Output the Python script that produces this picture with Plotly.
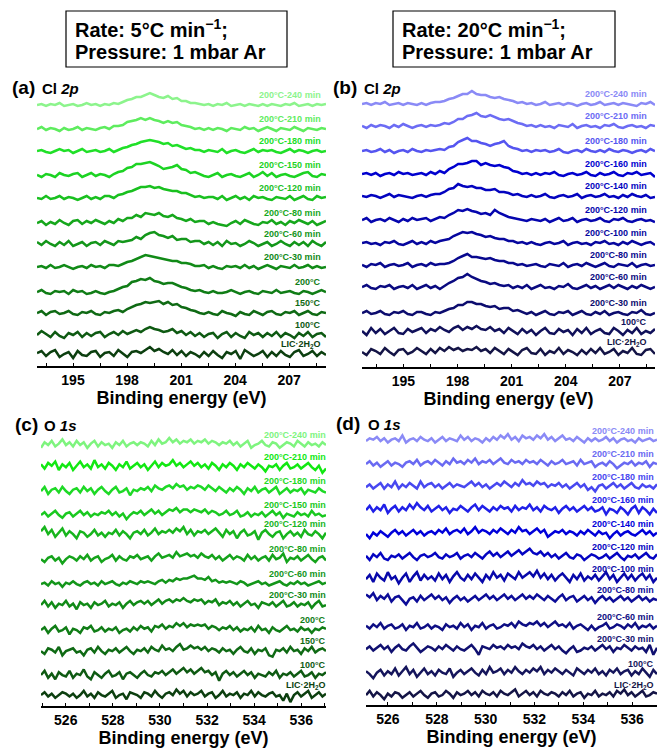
import numpy as np
import plotly.graph_objects as go

# ---------------------------------------------------------------
# Energy windows (eV) of the four panels
# ---------------------------------------------------------------
CL_A_WINDOW = (193.0, 209.05)
CL_B_WINDOW = (192.7, 208.95)
O_C_WINDOW = (524.95, 537.05)
O_D_WINDOW = (525.1, 537.02)

# Sample labels, bottom to top
labels_5c = ["LIC·2H<sub>2</sub>O", "100°C", "150°C", "200°C", "200°C-30 min",
             "200°C-60 min", "200°C-80 min", "200°C-120 min", "200°C-150 min",
             "200°C-180 min", "200°C-210 min", "200°C-240 min"]
labels_20c = ["LIC·2H<sub>2</sub>O", "100°C", "200°C-30 min", "200°C-60 min",
              "200°C-80 min", "200°C-100 min", "200°C-120 min", "200°C-140 min",
              "200°C-160 min", "200°C-180 min", "200°C-210 min", "200°C-240 min"]

# Vertical stacking offsets (intensity units of each panel), bottom to top
offsets_a = [12, 31, 53, 74, 99, 122, 143, 168, 191, 215, 237, 261]
offsets_b = [15, 35, 54, 80, 102, 124, 147, 171, 193, 216, 241, 263]
offsets_c = [7.8, 22.1, 39.2, 54.2, 72.1, 87.1, 104.9, 122.8, 136.4, 153.5, 170.6, 186.4]
offsets_d = [7.1, 22.1, 39.9, 55.6, 74.9, 89.9, 105.6, 122.1, 139.2, 155.6, 172.1, 188.5]

# ---------------------------------------------------------------
# Cl 2p spectra, 5 °C/min (relative intensity, background removed)
# ---------------------------------------------------------------
cl_a_lic = [1, 3, -2, 2, 4, -3, 0, 2, -4, 3, -1, -2, 2,
            3, -3, 1, 2, -2, 4, 0, -3, 2, 3, 1, 4, 7,
            3, 5, 2, 0, 4, -1, 3, -2, 2, 0, -3, 2, -2,
            3, -1, -4, 2, 0, 3, -5, 4, 1, -2, 0, 3, -3,
            2, -2, 3, -1, -3, 2, 4, -2, 0, 3, -2, 2, -1]
cl_a_100 = [0, 4, 1, -2, 3, -1, -3, 2, 0, 3, -2, 2, -1,
            2, 3, -2, 1, 3, 0, 4, 1, 3, 5, 3, 6, 8,
            6, 5, 3, 4, 6, 2, 4, 0, 3, -1, 2, -2, 1,
            2, -3, 1, 3, -2, 2, -1, -3, 3, 0, 2, -2, 2,
            -1, 3, -2, 2, 0, -3, 2, -1, 3, -2, 1, 2, -2]
cl_a_150 = [0, 2, -2, 1, 2, -1, 0, 2, -1, -2, 1, 0, 2,
            -1, -2, 1, 0, 2, 3, 1, 4, 6, 8, 9, 11, 10,
            11, 12, 9, 11, 8, 9, 6, 5, 3, 2, 0, -1, 1,
            -1, -2, 2, 0, -1, -3, 1, -1, -2, 2, 0, -2, 1,
            2, -1, -2, 1, 0, 2, -2, 0, 2, -1, -2, 1, 0]
cl_a_200 = [0, 2, -1, -2, 1, 0, 1, -2, 2, 0, 1, -2, -1,
            1, -1, -2, 0, 1, 3, 5, 6, 10, 11, 13, 12, 14,
            11, 10, 8, 9, 9, 7, 5, 4, 2, 1, 2, 0, -1,
            1, -1, -1, 0, 2, 0, -2, 0, 1, -1, -2, 1, 0,
            -1, 2, -1, 0, 1, -1, -2, 1, 0, -2, 0, 2, 0]
cl_a_30 = [0, 1, -1, 2, -1, 0, 2, 0, -2, 0, 1, -1, 2,
           0, 1, -1, 2, 2, 1, 3, 5, 6, 8, 10, 12, 11,
           10, 9, 8, 7, 6, 6, 4, 4, 3, 1, 1, 2, -1,
           1, -1, -2, 1, 0, 1, -1, 2, -1, 1, -2, 0, 2,
           0, -2, 1, 0, -1, 2, -1, 0, 2, -1, 1, -1, 0]
cl_a_60 = [2, -1, 3, 0, -2, 2, -1, 3, -2, 0, 2, -2, 1,
           2, -1, 3, 1, -1, 3, 2, 3, 4, 7, 5, 9, 11,
           12, 9, 8, 6, 8, 4, 5, 5, 2, 3, 3, 0, 2,
           -1, 2, -2, 3, 0, 1, -2, 0, 3, 1, -2, 0, 2,
           -2, 0, 3, 0, -2, 2, -1, 2, -2, 3, 0, -2, 2]
cl_a_80 = [0, 2, -2, 1, -1, 3, 0, -2, 2, 3, -1, 2, 0,
           3, 1, -1, 2, 0, 4, 2, 5, 5, 8, 6, 10, 9,
           8, 10, 7, 6, 8, 5, 4, 2, 4, 1, 2, 2, -1,
           1, -1, -2, -3, 0, 2, -1, 3, 1, -1, -2, 1, 0,
           3, -1, 1, -2, 2, 0, 3, 1, -1, 2, -2, 0, 2]
cl_a_120 = [0, -1, 2, -1, 0, 2, -1, 1, 0, -2, 0, 2, -1,
            1, -1, 2, 2, 0, 3, 4, 6, 7, 9, 11, 11, 12,
            10, 11, 9, 8, 7, 7, 5, 5, 3, 1, 2, 0, 1,
            1, -1, 2, -2, 0, 2, -1, 1, -2, 2, 0, 1, -1,
            -2, 1, 0, -1, 2, -2, 0, 2, -1, -2, 2, 0, 1]
cl_a_150m = [0, -2, 1, 0, -2, 2, 0, -1, 1, 2, -2, 0, 2,
             -1, 1, 0, -2, 1, 3, 4, 7, 8, 11, 11, 12, 13,
             11, 9, 6, 7, 8, 10, 6, 5, 2, 3, 1, -1, -2,
             0, 2, -2, 0, 1, -1, -2, 0, 2, -2, 0, 3, -1,
             2, -2, 0, 1, -1, -2, 0, 2, 3, -1, -2, 1, 0]
cl_a_180 = [0, 1, -1, -2, 0, 2, 0, 1, -2, 0, 2, -1, 0,
            1, -1, 0, 2, -1, 1, 3, 4, 6, 7, 9, 10, 11,
            10, 9, 7, 8, 5, 6, 4, 2, 3, 1, 1, -1, 1,
            0, -1, 2, -2, 0, 1, -1, -2, 0, 2, -1, 1, 0,
            1, -1, -2, 0, 2, -1, 1, 0, -2, 0, 1, -1, 0]
cl_a_210 = [0, 2, -1, 1, 0, -2, 1, -1, 0, 2, -1, 1, 0,
            -1, 1, 2, 0, 3, 3, 4, 7, 8, 9, 11, 9, 11,
            9, 8, 6, 8, 6, 7, 4, 3, 2, 0, 1, -1, 1,
            -1, 1, 0, -2, 1, 0, -1, 2, 0, 1, -2, 0, 2,
            0, -2, 1, 0, -1, 2, 0, -2, 1, 0, -1, 1, 0]
cl_a_240 = [0, 1, -1, 1, 0, 2, -1, 0, 1, -1, 0, 2, 0,
            1, -1, 1, 0, 2, 1, 3, 5, 6, 8, 8, 10, 12,
            10, 8, 7, 9, 6, 7, 4, 4, 2, 2, 1, 0, 1,
            -1, 1, 0, 2, -1, 0, 1, -1, 1, 0, -1, 1, -1,
            1, 0, -1, 1, 0, 2, -1, 0, 1, -1, 1, 0, 1]

# ---------------------------------------------------------------
# Cl 2p spectra, 20 °C/min
# ---------------------------------------------------------------
cl_b_lic = [0, -3, 3, 1, -2, 4, 0, -3, 2, 3, -2, 0, 4,
            1, -2, 3, -1, 4, 1, 5, 2, 4, 1, 3, 2, 5,
            1, 3, -1, 4, 1, -2, 3, 0, -3, 2, 4, -1, -2,
            3, -3, 1, -1, 4, -2, 2, 0, -3, 2, -2, 3, -1,
            4, -2, 0, 3, -3, 1, -1, 4, -2, -3, 2, 3, -2]
cl_b_100 = [1, -3, 4, -1, 3, -2, 1, 4, -1, -2, 3, 0, 2,
            4, -1, 3, 1, 5, 2, 0, 4, 6, 2, 5, 3, 6,
            3, 2, 5, 1, 3, -1, 4, 1, -2, 3, -1, 2, -3,
            1, 4, -1, -2, 3, 0, 2, -3, 3, -1, 4, -2, 1,
            3, -1, -2, 4, 1, -3, 2, -1, 4, -2, 1, -1, 3]
cl_b_30 = [0, 2, -1, 0, 2, -1, -2, 1, 0, 2, -1, -2, 1,
           1, -1, -2, 1, 0, 2, 4, 5, 8, 8, 11, 11, 9,
           9, 7, 6, 7, 4, 5, 5, 2, 3, 1, -1, 1, -2,
           0, 2, -1, -2, 1, 0, 2, -2, 0, 2, -1, -2, 1,
           -1, 2, -2, 0, 1, -1, -2, 1, 0, 3, -1, -2, 0]
cl_b_60 = [0, 2, -1, -2, 1, 0, 2, -2, 0, 1, -1, 2, -2,
           0, 2, -1, 1, -2, 1, 4, 6, 9, 10, 13, 10, 8,
           6, 5, 3, 4, 2, 1, 2, -1, 1, -1, 2, -2, 0,
           2, -1, 0, -2, 1, 0, 3, -1, -2, 0, 2, -1, 1,
           -2, 0, 2, -1, 2, 0, -2, 1, -1, 2, 0, -2, 0]
cl_b_80 = [0, -2, 1, 0, 2, -2, 0, 1, -1, 0, 2, -2, 0,
           1, -1, 2, 0, 1, 1, 2, 4, 7, 9, 11, 8, 8,
           7, 6, 7, 5, 4, 4, 2, 2, 0, 1, -1, 0, 1,
           -1, -2, 1, 0, -1, 2, -2, 0, 1, -1, 2, 0, -2,
           0, 2, -1, -2, 1, 0, -1, 2, -2, 0, 1, -1, 0]
cl_b_100m = [0, 1, -1, 0, -2, 1, 0, 2, -1, -2, 0, 2, -1,
             1, -1, 2, 0, 2, 3, 4, 7, 9, 11, 10, 11, 9,
             8, 6, 7, 5, 4, 4, 2, 2, 0, 1, -1, 1, -1,
             -2, 0, 1, -1, 0, 2, -2, 0, 1, -1, 0, -2, 1,
             0, 2, -1, 0, -2, 1, -1, 2, 0, -2, 0, 1, -2]
cl_b_120 = [0, 2, -2, 0, 1, -1, 2, 0, -2, 1, -1, 2, 0,
            1, 2, -1, 1, 3, 2, 5, 7, 10, 9, 11, 9, 8,
            6, 7, 5, 10, 7, 5, 3, 2, 1, 0, -1, 1, 0,
            -1, 1, -2, 0, 2, -1, 0, 2, -2, 0, 1, -1, 0,
            2, -1, -2, 1, 0, 2, -1, -2, 0, 1, -1, 0, -2]
cl_b_140 = [0, -1, 1, 0, -2, 0, 2, -1, 1, 0, -1, -2, 0,
            1, -1, 1, 2, 2, 4, 7, 8, 12, 10, 9, 10, 8,
            8, 6, 6, 7, 4, 4, 3, 1, 2, 0, -1, 1, -1,
            0, 2, -1, -2, 0, 1, -1, 0, 2, -2, 0, 1, -1,
            0, 2, -1, 0, -2, 1, -1, 2, 0, -1, 1, -2, -1]
cl_b_160 = [0, 1, -1, 1, -2, 0, 1, -1, 2, 0, 1, -1, 0,
            1, -1, 2, 0, 3, 1, 5, 7, 10, 10, 11, 13, 13,
            9, 11, 9, 8, 9, 7, 6, 3, 2, 0, 1, -1, 1,
            -1, 1, 0, 2, -1, -2, 0, 1, -1, 0, 2, -1, -2,
            1, -1, 0, 2, -1, -2, 1, 0, 2, -1, 0, 1, -3]
cl_b_180 = [0, 1, -1, 0, 2, -1, 1, -2, 0, 1, -1, 2, 0,
            -1, 1, 0, 1, 2, 1, 4, 5, 9, 11, 13, 10, 10,
            8, 7, 5, 7, 8, 10, 5, 3, 2, 0, 1, -1, 1,
            0, 1, -1, 0, 2, -1, -2, 0, 1, -1, 2, 0, -1,
            1, -1, 2, 0, -1, 1, 0, -2, 0, 1, -1, 2, 0]
cl_b_210 = [0, -2, 1, -1, 1, 0, -2, 1, -1, 2, 0, -2, 0,
            1, -1, 1, 0, 1, 3, 2, 4, 7, 7, 10, 11, 13,
            10, 9, 11, 9, 7, 6, 7, 5, 3, 2, 0, 1, -1,
            1, -1, 0, -2, 1, 0, -1, 2, -2, 0, 1, -1, 0,
            -2, 1, 0, 2, -1, -2, 0, 1, -1, 0, -2, 1, 0]
cl_b_240 = [0, 1, -1, 1, 0, 2, -1, 0, 1, -1, 1, 0, -1,
            1, -1, 1, 2, 2, 3, 5, 6, 8, 10, 10, 13, 10,
            9, 9, 7, 6, 7, 5, 4, 3, 1, 2, 0, 1, -1,
            0, 2, -1, 0, 1, -1, 1, 0, -2, 0, 1, -1, 0,
            2, -1, 0, 1, -1, 1, 0, -1, -2, 1, 0, 2, -1]

# ---------------------------------------------------------------
# O 1s spectra, 5 °C/min
# ---------------------------------------------------------------
o_c_lic = [0, 2, -1, 1, -2, 0, 2, 1, -1,
           1, -2, 0, 3, -1, 1, -2, 2, 0,
           -1, 1, 3, -2, 0, 1, -3, 2, 1,
           0, -2, 2, 1, -1, 3, 0, -2, 1,
           2, 0, 4, 1, 3, -1, 2, 0, 1,
           3, -1, 1, 2, -2, 0, 3, -1, 1,
           0, 2, -2, 1, 0, 3, -1, 2, 0,
           -1, 1, 2, -1, 0, -4, 1, -5, 0,
           2, -1, 1, 3, -2, 0, 2, -1, 1]
o_c_100 = [0, 3, -2, 1, -3, 2, 0, -1, 3,
           -2, 1, 0, 4, -1, -3, 2, 0, -2,
           1, 3, -1, 0, 2, -3, 1, 2, 0,
           -2, 1, 3, 0, -1, 2, 1, 3, 0,
           2, 4, 1, 3, 5, 2, 4, 1, 3,
           5, 2, 3, 0, 2, -4, 1, 3, 0,
           2, -1, 1, 3, 0, 2, -2, 1, 0,
           -1, 2, 0, 3, -2, 1, 0, 2, -1,
           1, 3, -1, 0, 2, -2, 1, 0, 2]
o_c_150 = [0, -2, 2, 1, -1, 3, -3, 0, 1,
           2, -1, 0, -3, 1, 2, -1, 3, 0,
           -2, 1, 0, 2, -1, 1, 3, 0, -2,
           1, 0, 2, -1, 3, 1, 0, 4, 1,
           2, 0, 3, 5, 1, 2, 4, 2, 3,
           1, 3, 0, 2, 1, -1, 2, 0, 1,
           -2, 1, 3, 0, -1, 2, -2, 1, 0,
           2, -3, -4, 1, 0, 2, -1, 3, 0,
           1, -2, 2, 0, 3, -1, 1, 2, 0]
o_c_200 = [0, 2, -2, 1, 3, -1, 0, 2, -3,
           1, 0, -2, 2, 1, 3, -1, 0, 2,
           -1, 1, 0, 2, -2, 0, 1, -1, 2,
           0, 3, 1, 2, -1, 3, 2, 4, 1,
           3, 2, 5, 3, 5, 2, 4, 3, 4,
           3, 4, 1, 3, 2, 0, 2, 1, 3,
           0, 2, -1, 1, 0, 2, -1, 3, 0,
           1, -2, 2, 0, -1, 1, 3, 0, 1,
           -1, 2, 0, 1, -2, 1, 0, 2, 1]
o_c_30 = [0, 3, -1, 2, -2, 1, 0, 3, -1,
          1, -3, 2, 0, 1, -2, 2, 0, 1,
          3, -1, 1, 0, 2, -2, 1, 3, 0,
          2, 3, 1, 3, 0, 2, 4, 1, 3,
          4, 2, 4, 3, 5, 3, 2, 4, 3,
          4, 1, 3, 2, 4, 0, 2, 1, 3,
          0, 2, -1, 1, 3, 0, 1, -2, 2,
          1, 0, 2, -1, 1, 3, -1, 0, 2,
          -1, 1, 0, 2, -2, 1, 3, -1, 0]
o_c_60 = [0, 1, -1, 2, 0, 1, -2, 1, 0,
          2, 0, -1, 1, 2, 0, 1, -1, 2,
          0, 1, 2, 0, -1, 1, 0, 2, 1,
          0, 2, 1, 2, 1, 0, 2, 3, 1,
          3, 2, 4, 3, 4, 4, 5, 6, 4,
          4, 3, 5, 2, 3, 1, 2, 1, 2,
          1, 0, 2, 1, -1, 0, 1, 2, 0,
          1, -1, 0, 1, 2, 0, -1, 1, 0,
          2, 0, 1, -1, 0, 1, 2, 0, 1]
o_c_80 = [0, -2, 1, 2, -1, 1, -3, 0, 2,
          1, -1, 2, 0, 3, -1, 1, 2, -2,
          0, 1, 3, -1, 2, 0, -1, 2, 1,
          3, 0, 1, 2, -1, 2, 4, 1, 2,
          3, 1, 5, 2, 3, 4, 2, 3, 1,
          4, 2, 1, 3, 0, 2, -1, 1, 3,
          0, 2, 1, -1, 3, 0, 2, -1, 1,
          2, -1, 3, 0, 1, 4, -2, 1, 0,
          2, -1, 1, 3, 0, -2, 1, 2, -1]
o_c_120 = [2, 5, 0, 3, -2, 1, 4, -1, 2,
           0, -3, 2, 1, -2, 0, 3, -1, 1,
           -2, 1, 0, 3, -1, 2, 0, -3, 1,
           2, 0, 3, -1, 1, 4, 0, 2, 1,
           3, 1, 4, 2, 5, 0, 3, -1, 2,
           1, 3, 0, 2, 4, 1, -2, 3, 0,
           2, -3, 1, 3, -1, 0, 2, -4, 1,
           3, 0, -2, 1, 2, -3, 0, 2, -1,
           1, -2, 3, 0, -1, 2, 0, -3, 1]
o_c_150m = [0, 2, -1, 1, 3, 0, -2, 1, 2,
            -1, 1, 3, 0, 2, -1, 1, 0, 2,
            1, 3, 0, 2, -1, 1, -3, 0, 2,
            1, 3, 0, 2, 4, 1, 3, 0, 2,
            4, 3, 5, 2, 4, 4, 2, 4, 3,
            2, 4, 1, 3, 2, 0, 1, 3, 0,
            1, 3, -1, 0, 2, -1, 1, 0, 2,
            -1, 1, 3, 0, 2, -2, 1, 0, -1,
            2, 0, 1, -1, 3, 0, 1, -1, 0]
o_c_180 = [0, 3, -2, 1, 2, -1, 3, 0, -2,
           1, 2, -1, 3, 0, 2, -2, 1, 3,
           0, -2, 1, 3, -1, 0, 2, -3, 1,
           0, 2, 1, 3, 0, 4, 2, 1, 3,
           4, 2, 5, 3, 4, 1, 3, 2, 4,
           3, 1, 4, 2, 0, 3, 1, -1, 2,
           0, 3, 1, -2, 2, 0, 3, -1, 1,
           2, -1, 1, 3, -2, 0, 2, -1, 1,
           0, 2, -2, 1, 0, -1, 2, 0, -1]
o_c_210 = [2, -1, 3, 1, 4, -2, 2, 0, 3,
           -2, 1, 4, 0, 2, -1, 5, 0, 2,
           -1, 3, 1, -2, 2, 0, 4, -1, 1,
           3, 0, 2, -2, 1, 4, 0, 3, 1,
           2, 5, 1, 3, 0, 2, 4, 1, 3,
           0, 2, -1, 3, 1, -2, 2, 0, 3,
           1, -2, 2, 0, 3, 1, -1, 2, 0,
           -3, 1, 0, 2, -2, 1, 3, -1, 0,
           2, -1, 1, 3, 0, -2, 1, -4, -1]
o_c_240 = [-2, 2, 0, 3, -1, 1, 4, 0, 2,
           -1, 3, 0, 2, -2, 1, 3, -1, 2,
           0, 1, -2, 2, 0, 3, -1, 1, 2,
           0, 2, 1, -1, 3, 0, 4, 1, 2,
           5, 2, 4, 1, 3, 2, 4, 1, 3,
           2, 4, 1, 3, 2, 0, 2, 1, 3,
           0, 2, -1, 1, 3, -2, 0, 1, 3,
           0, -1, 2, 1, -2, 0, 2, 1, -1,
           3, 1, -1, 2, 0, 1, -1, 2, 0]

# ---------------------------------------------------------------
# O 1s spectra, 20 °C/min
# ---------------------------------------------------------------
o_d_lic = [0, 3, -1, 2, 0, -3, 1, -1, 2,
           1, -2, 0, 2, -1, 1, 3, 0, -2,
           1, 2, -1, 0, 3, 1, -2, 2, 0,
           1, 3, 0, 2, -1, 3, 1, 0, 2,
           -1, 3, 1, 0, 2, 4, -1, 1, 3,
           0, 2, -1, 3, 1, 0, 2, 1, -1,
           2, 0, 3, -1, 1, 2, -2, 1, 0,
           3, -1, 1, 0, 2, -1, 3, 1, 4,
           0, 2, -1, 1, 3, -1, 0, 2, 1]
o_d_100 = [2, 0, -3, 1, 3, -1, 2, 0, 4,
           -1, 2, 5, 0, 3, -2, 1, 4, 0,
           2, -1, 3, 1, 0, 4, -2, 1, 3,
           0, 2, 4, 1, -1, 3, 0, 5, 1,
           2, 4, 0, 3, 1, 5, 2, 0, 3,
           1, 4, 2, 5, 0, 3, 1, 4, 2,
           0, 3, 1, -1, 4, 2, 0, 3, 1,
           4, 0, 2, -1, 3, 1, 4, 0, 2,
           3, -1, 2, 0, 4, 1, -2, 3, 0]
o_d_30 = [0, 2, -1, 1, 3, 0, 2, -2, 1,
          3, 0, -1, 2, 4, 1, -2, 0, 2,
          1, -1, 2, 0, 3, 1, -1, 2, 0,
          -1, 1, 3, 0, -4, 2, 1, 0, 3,
          1, 2, 0, 3, 1, 2, 0, 4, 2,
          1, 3, 0, 2, -1, 1, 3, 0, 2,
          -1, -3, 0, 2, -2, -1, 1, 0, 2,
          -1, 1, 3, 0, 2, -2, 1, 0, 3,
          1, -1, 2, 0, 1, -2, 3, -4, 1]
o_d_60 = [1, -1, 2, 0, 3, -1, 1, 2, -1,
          0, 2, -2, 1, 0, 3, -1, 0, 2,
          -1, 1, 0, -2, 2, 0, 1, -1, 3,
          0, 2, -2, 1, 0, 3, -1, 1, 2,
          -1, 0, 2, 1, 3, 0, 4, 2, 1,
          3, 2, 4, 1, 3, 0, 2, 4, 1,
          2, 0, 3, -1, 1, 2, 0, -2, 1,
          -2, 0, 1, 3, -1, 0, 2, 1, -1,
          2, 0, 3, -1, 1, 0, 2, -1, 1]
o_d_80 = [4, 2, 5, 0, 3, 1, 4, -1, 2,
          3, 0, -3, 1, 2, -1, 3, 0, 2,
          4, 1, 3, 0, 2, -2, 1, 3, 0,
          2, -1, 1, 3, 0, 2, 4, 1, 3,
          0, 2, 4, 1, 3, 0, 2, 4, 1,
          3, 1, 4, 2, 0, 3, 1, -1, 2,
          4, 0, 2, 3, -1, 1, 3, 0, 2,
          -2, 1, 3, 0, 2, -1, 1, 3, 0,
          2, -1, 1, 3, 0, 2, -1, 1, 0]
o_d_100m = [0, 3, -2, 4, 1, -1, 5, 0, 2,
            -3, 1, 4, -2, 2, 5, -1, 3, 0,
            2, -1, 4, 0, 3, -2, 2, 5, 1,
            -1, 3, 0, 4, 1, -2, 3, 0, 5,
            1, 3, -1, 4, 2, 0, 5, 1, 3,
            5, 2, 6, 1, 4, 0, 3, -1, 2,
            4, 1, -2, 3, 0, 4, -1, 2, 0,
            3, -1, 2, 5, 0, 3, -2, 1, 4,
            0, 3, -1, 2, 4, 0, 3, -2, 1]
o_d_120 = [1, -2, 2, 0, 3, -1, -2, 1, 0,
           2, -1, 1, 3, 0, -2, 1, 2, 0,
           1, 3, 0, -1, 2, 0, 1, 3, -1,
           1, 2, 0, 3, 1, -1, 2, 4, 1,
           3, 0, 2, 4, 1, 3, 5, 2, 4,
           6, 3, 2, 4, 1, 3, 0, 2, -1,
           1, 3, 0, -1, 2, 1, -2, 0, 2,
           1, -1, 0, 2, -1, 1, 3, 0, -2,
           1, 0, 2, -1, 1, 3, 0, -1, 2]
o_d_140 = [0, -3, 1, -1, 2, 0, -2, 1, 3,
           0, 2, -1, 1, 3, 0, 2, -1, 1,
           2, 0, 3, 1, 4, 0, 2, 3, 1,
           4, 0, 2, 5, 1, 3, 2, 0, 3,
           1, 4, 2, 0, 3, 1, 5, 2, 3,
           0, 2, 4, 1, 3, -2, 0, 2, 1,
           3, 0, 2, 1, -1, 2, 0, 3, 1,
           -1, 2, 0, 1, -3, 0, 2, -1, 1,
           2, 0, -1, 1, 3, 0, 2, -1, 1]
o_d_160 = [0, 3, -1, 2, 0, 4, -2, 1, 3,
           -1, 2, 0, 4, 1, 5, 2, 0, 3,
           -1, 1, 3, 0, 2, -2, 1, 0, 3,
           1, -1, 2, 4, 0, 3, 1, -1, 2,
           0, 3, 1, 2, -1, 3, 0, 2, 1,
           4, 0, 2, -1, 3, 1, 0, 2, -2,
           1, 3, 0, 2, -1, 1, 3, 0, 2,
           -1, 0, 2, -3, 1, 0, -2, 2, 0,
           -3, 1, 3, -2, 2, 0, -3, 1, -2]
o_d_180 = [0, 2, -1, 1, 3, -1, 2, 0, 4,
           -1, 2, 0, 3, 1, -1, 4, 0, 2,
           3, 0, 2, -1, 1, 3, 0, 2, 1,
           0, 2, 4, 1, 3, 0, 2, -1, 1,
           3, 1, 4, 2, 0, 3, 1, 5, 2,
           3, 1, 4, 2, 3, 0, 2, 1, 3,
           0, 2, -1, 1, 3, 0, 2, -2, 0,
           -3, 1, 2, -1, 1, 3, 0, 2, -1,
           1, 3, 0, -1, 2, 0, 1, -1, 2]
o_d_210 = [0, 2, -1, 1, -2, 0, 2, -1, 1,
           0, -2, 1, 2, 0, 3, -1, 1, 2,
           0, 3, 1, -1, 2, 0, 4, 1, 2,
           0, 3, 1, 4, 0, 2, 1, 3, 0,
           2, 4, 1, 0, 3, 1, 2, 0, 3,
           1, 2, 0, 3, 1, -1, 2, 0, 1,
           3, 0, 1, 2, -1, 3, 0, 1, 2,
           -2, 0, 1, -1, 2, 0, -3, -1, 1,
           0, 2, -1, 1, 0, 2, -2, 1, 0]
o_d_240 = [0, 2, 1, 3, 0, 2, -1, 1, 2,
           0, 4, -1, 1, 2, 0, 3, 1, 0,
           2, -1, 1, 3, 0, 2, 1, 0, 4,
           1, 3, 0, 2, 1, -1, 2, 0, 3,
           1, 4, 2, 5, 1, 3, 0, 4, 2,
           3, 1, 4, 2, 5, 1, 3, 0, 2,
           4, 1, 2, 0, 3, 1, -1, 2, 0,
           2, 0, 1, 3, 0, 2, -1, 1, 2,
           0, 1, -1, 2, 0, 1, 2, 0, 1]

spectra_a = [cl_a_lic, cl_a_100, cl_a_150, cl_a_200, cl_a_30, cl_a_60,
             cl_a_80, cl_a_120, cl_a_150m, cl_a_180, cl_a_210, cl_a_240]
spectra_b = [cl_b_lic, cl_b_100, cl_b_30, cl_b_60, cl_b_80, cl_b_100m,
             cl_b_120, cl_b_140, cl_b_160, cl_b_180, cl_b_210, cl_b_240]
spectra_c = [o_c_lic, o_c_100, o_c_150, o_c_200, o_c_30, o_c_60,
             o_c_80, o_c_120, o_c_150m, o_c_180, o_c_210, o_c_240]
spectra_d = [o_d_lic, o_d_100, o_d_30, o_d_60, o_d_80, o_d_100m,
             o_d_120, o_d_140, o_d_160, o_d_180, o_d_210, o_d_240]

# Line colours, bottom to top
greens_a = ["#0c3f0f", "#0e5a12", "#0f6a14", "#107d16", "#118a17", "#13961a",
            "#16a71c", "#19c01f", "#1cd323", "#20e028", "#5eec5e", "#8cf48c"]
greens_c = ["#0c3f0f", "#0e5a12", "#0f6a14", "#107d16", "#118a17", "#13961a",
            "#15a31b", "#17b51d", "#1ac920", "#1ed926", "#12e812", "#7ef47e"]
blues_b = ["#141446", "#10105a", "#0c0c6e", "#0a0a80", "#08088e", "#06069e",
           "#0505ae", "#0303bf", "#0000cf", "#5555f0", "#6c6cf4", "#8a8af6"]
blues_d = ["#141446", "#15155c", "#101070", "#0e0e84", "#0c0c98", "#0808aa",
           "#0404c2", "#0000da", "#2020e8", "#4848f0", "#6a6af2", "#8a8af6"]

# ---------------------------------------------------------------
# Figure geometry (pixels of the 657 x 749 page)
# ---------------------------------------------------------------
W, H = 657, 749
FONT = "Liberation Sans, Arial, sans-serif"

panels = [
    # px_per_unit: screen pixels per intensity unit of the panel
    dict(s="", x0=37, x1=326, yt=86, yb=366, win=CL_A_WINDOW, dt=3, t0=195,
         data=spectra_a, off=offsets_a, lab=labels_5c, col=greens_a, lx=-3,
         px_per_unit=1.0),
    dict(s="2", x0=362, x1=655, yt=87, yb=367, win=CL_B_WINDOW, dt=3, t0=195,
         data=spectra_b, off=offsets_b, lab=labels_20c, col=blues_b, lx=-6,
         px_per_unit=1.0),
    dict(s="3", x0=41, x1=326, yt=426, yb=706, win=O_C_WINDOW, dt=2, t0=526,
         data=spectra_c, off=offsets_c, lab=labels_5c, col=greens_c, lx=2,
         px_per_unit=1.4),
    dict(s="4", x0=366, x1=657, yt=425, yb=705, win=O_D_WINDOW, dt=2, t0=526,
         data=spectra_d, off=offsets_d, lab=labels_20c, col=blues_d, lx=-1,
         px_per_unit=1.4),
]

fig = go.Figure()
annotations = []
layout_axes = {}

for p in panels:
    xa = "x" + p["s"]
    ya = "y" + p["s"]
    lo, hi = p["win"]
    for vals, off, lab, col in zip(p["data"], p["off"], p["lab"], p["col"]):
        energy = np.linspace(lo, hi, len(vals))
        fig.add_trace(go.Scatter(
            x=energy, y=np.asarray(vals, dtype=float) + off,
            mode="lines", line=dict(color=col, width=2.5),
            xaxis=xa, yaxis=ya, showlegend=False, hoverinfo="skip"))
        # sample name sits about 10 px above its trace
        annotations.append(dict(
            x=hi, y=off, xref=xa, yref=ya, text=lab, showarrow=False,
            xanchor="right", yanchor="middle", xshift=p["lx"], yshift=10,
            font=dict(family=FONT, size=9, color=col, weight="bold")))

    span_px = p["yb"] - p["yt"]
    layout_axes["xaxis" + p["s"]] = dict(
        domain=[p["x0"] / W, p["x1"] / W], range=[lo, hi], anchor=ya,
        showline=True, linewidth=2, linecolor="black", showgrid=False,
        zeroline=False, ticks="inside", ticklen=3, tickwidth=1.2,
        tickcolor="black", tick0=p["t0"], dtick=p["dt"],
        minor=dict(ticks="inside", ticklen=3, tickwidth=1.2,
                   tickcolor="black", dtick=p["dt"] / 2, showgrid=False),
        tickfont=dict(family=FONT, size=14, color="black", weight="bold"),
        title=dict(text="Binding energy (eV)", standoff=2,
                   font=dict(family=FONT, size=18, color="black", weight="bold")),
    )
    layout_axes["yaxis" + p["s"]] = dict(
        domain=[1 - p["yb"] / H, 1 - p["yt"] / H],
        range=[0, span_px / p["px_per_unit"]],
        visible=False, anchor=xa)

# Panel tags and core-level names
tags = [("(a)", 10, 88, "Cl <i>2p</i>", 40),
        ("(b)", 331, 88, "Cl <i>2p</i>", 362),
        ("(c)", 13, 424, "O <i>1s</i>", 42),
        ("(d)", 334, 423, "O <i>1s</i>", 366)]
for tag, tx, ty, core, cx in tags:
    annotations.append(dict(
        x=tx / W, y=1 - ty / H, xref="paper", yref="paper", text=tag,
        showarrow=False, xanchor="left", yanchor="middle",
        font=dict(family=FONT, size=19, color="black", weight="bold")))
    annotations.append(dict(
        x=cx / W, y=1 - (ty + 1) / H, xref="paper", yref="paper", text=core,
        showarrow=False, xanchor="left", yanchor="middle",
        font=dict(family=FONT, size=15, color="black", weight="bold")))

# Condition boxes
shapes = []
boxes = [(66, 287, "Rate: 5°C min<sup>−1</sup>;", 73),
         (393, 615, "Rate: 20°C min<sup>−1</sup>;", 400)]
for bx0, bx1, rate, txx in boxes:
    shapes.append(dict(type="rect", xref="paper", yref="paper",
                       x0=bx0 / W, x1=bx1 / W, y0=1 - 67 / H, y1=1 - 11 / H,
                       line=dict(color="black", width=1.2)))
    annotations.append(dict(
        x=txx / W, y=1 - 28 / H, xref="paper", yref="paper", text=rate,
        showarrow=False, xanchor="left", yanchor="middle",
        font=dict(family=FONT, size=20, color="black", weight="bold")))
    annotations.append(dict(
        x=txx / W, y=1 - 52 / H, xref="paper", yref="paper",
        text="Pressure: 1 mbar Ar", showarrow=False, xanchor="left",
        yanchor="middle",
        font=dict(family=FONT, size=20, color="black", weight="bold")))

fig.update_layout(
    width=W, height=H, margin=dict(l=0, r=0, t=0, b=0),
    paper_bgcolor="white", plot_bgcolor="white",
    annotations=annotations, shapes=shapes, **layout_axes)

fig.write_html("out.html")
